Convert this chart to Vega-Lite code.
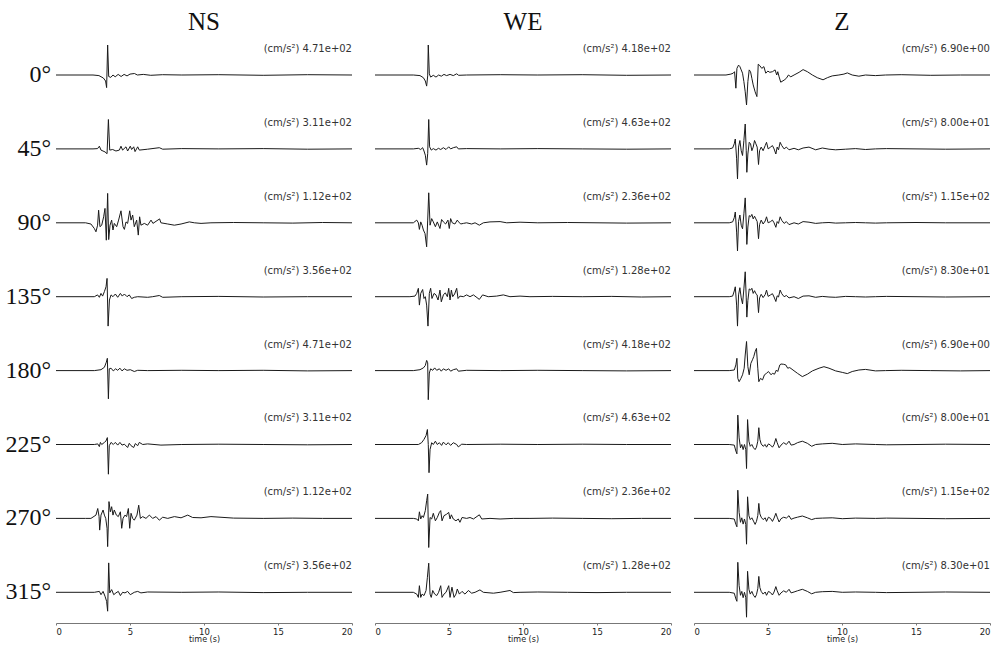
{
"$schema": "https://vega.github.io/schema/vega-lite/v6.json",
"background": "white",
"padding": {"left": 5, "top": 10, "right": 0, "bottom": 0},
"bounds": "flush",
"data": {"values": [
{"c":"NS","a":"0°","lab":"(cm/s²) 4.71e+02"},{"c":"NS","a":"45°","lab":"(cm/s²) 3.11e+02"},{"c":"NS","a":"90°","lab":"(cm/s²) 1.12e+02"},{"c":"NS","a":"135°","lab":"(cm/s²) 3.56e+02"},
{"c":"NS","a":"180°","lab":"(cm/s²) 4.71e+02"},{"c":"NS","a":"225°","lab":"(cm/s²) 3.11e+02"},{"c":"NS","a":"270°","lab":"(cm/s²) 1.12e+02"},{"c":"NS","a":"315°","lab":"(cm/s²) 3.56e+02"},
{"c":"WE","a":"0°","lab":"(cm/s²) 4.18e+02"},{"c":"WE","a":"45°","lab":"(cm/s²) 4.63e+02"},{"c":"WE","a":"90°","lab":"(cm/s²) 2.36e+02"},{"c":"WE","a":"135°","lab":"(cm/s²) 1.28e+02"},
{"c":"WE","a":"180°","lab":"(cm/s²) 4.18e+02"},{"c":"WE","a":"225°","lab":"(cm/s²) 4.63e+02"},{"c":"WE","a":"270°","lab":"(cm/s²) 2.36e+02"},{"c":"WE","a":"315°","lab":"(cm/s²) 1.28e+02"},
{"c":"Z","a":"0°","lab":"(cm/s²) 6.90e+00"},{"c":"Z","a":"45°","lab":"(cm/s²) 8.00e+01"},{"c":"Z","a":"90°","lab":"(cm/s²) 1.15e+02"},{"c":"Z","a":"135°","lab":"(cm/s²) 8.30e+01"},
{"c":"Z","a":"180°","lab":"(cm/s²) 6.90e+00"},{"c":"Z","a":"225°","lab":"(cm/s²) 8.00e+01"},{"c":"Z","a":"270°","lab":"(cm/s²) 1.15e+02"},{"c":"Z","a":"315°","lab":"(cm/s²) 8.30e+01"},

{"c":"NS","a":"0°","t":0,"v":0},{"c":"NS","a":"0°","t":2.5,"v":0},{"c":"NS","a":"0°","t":2.9,"v":-0.02},{"c":"NS","a":"0°","t":3.2,"v":-0.1},{"c":"NS","a":"0°","t":3.35,"v":-0.2},{"c":"NS","a":"0°","t":3.42,"v":-0.42},{"c":"NS","a":"0°","t":3.49,"v":1.0},{"c":"NS","a":"0°","t":3.56,"v":-0.05},{"c":"NS","a":"0°","t":3.7,"v":-0.08},{"c":"NS","a":"0°","t":3.85,"v":0},{"c":"NS","a":"0°","t":4.0,"v":-0.06},{"c":"NS","a":"0°","t":4.2,"v":0.02},{"c":"NS","a":"0°","t":4.4,"v":-0.05},{"c":"NS","a":"0°","t":4.6,"v":0.02},{"c":"NS","a":"0°","t":4.8,"v":-0.03},{"c":"NS","a":"0°","t":5.0,"v":0.03},{"c":"NS","a":"0°","t":5.3,"v":0.05},{"c":"NS","a":"0°","t":5.5,"v":0},{"c":"NS","a":"0°","t":5.9,"v":0.02},{"c":"NS","a":"0°","t":6.4,"v":-0.01},{"c":"NS","a":"0°","t":7.2,"v":0.01},{"c":"NS","a":"0°","t":8.5,"v":0},{"c":"NS","a":"0°","t":11,"v":0.01},{"c":"NS","a":"0°","t":14,"v":-0.01},{"c":"NS","a":"0°","t":17,"v":0.01},{"c":"NS","a":"0°","t":20,"v":0},

{"c":"NS","a":"45°","t":0,"v":0},{"c":"NS","a":"45°","t":2.5,"v":0},{"c":"NS","a":"45°","t":2.81,"v":0.01},{"c":"NS","a":"45°","t":2.93,"v":0.09},{"c":"NS","a":"45°","t":3.04,"v":-0.04},{"c":"NS","a":"45°","t":3.31,"v":-0.1},{"c":"NS","a":"45°","t":3.45,"v":-0.16},{"c":"NS","a":"45°","t":3.54,"v":0.98},{"c":"NS","a":"45°","t":3.63,"v":-0.04},{"c":"NS","a":"45°","t":3.83,"v":-0.02},{"c":"NS","a":"45°","t":4.05,"v":-0.07},{"c":"NS","a":"45°","t":4.28,"v":-0.04},{"c":"NS","a":"45°","t":4.39,"v":0.09},{"c":"NS","a":"45°","t":4.5,"v":-0.04},{"c":"NS","a":"45°","t":4.73,"v":0.07},{"c":"NS","a":"45°","t":4.84,"v":-0.07},{"c":"NS","a":"45°","t":5.02,"v":0.09},{"c":"NS","a":"45°","t":5.11,"v":-0.02},{"c":"NS","a":"45°","t":5.25,"v":0.07},{"c":"NS","a":"45°","t":5.34,"v":-0.09},{"c":"NS","a":"45°","t":5.52,"v":0.07},{"c":"NS","a":"45°","t":5.63,"v":-0.04},{"c":"NS","a":"45°","t":6.19,"v":-0.01},{"c":"NS","a":"45°","t":6.98,"v":0.04},{"c":"NS","a":"45°","t":7.21,"v":-0.01},{"c":"NS","a":"45°","t":8.5,"v":0.01},{"c":"NS","a":"45°","t":11,"v":0},{"c":"NS","a":"45°","t":14,"v":0.01},{"c":"NS","a":"45°","t":17,"v":-0.01},{"c":"NS","a":"45°","t":20,"v":0},

{"c":"NS","a":"90°","t":0,"v":0},{"c":"NS","a":"90°","t":2.0,"v":0},{"c":"NS","a":"90°","t":2.36,"v":-0.04},{"c":"NS","a":"90°","t":2.59,"v":-0.19},{"c":"NS","a":"90°","t":2.7,"v":-0.3},{"c":"NS","a":"90°","t":2.81,"v":-0.08},{"c":"NS","a":"90°","t":2.88,"v":0.42},{"c":"NS","a":"90°","t":2.97,"v":-0.13},{"c":"NS","a":"90°","t":3.09,"v":-0.08},{"c":"NS","a":"90°","t":3.22,"v":0.2},{"c":"NS","a":"90°","t":3.31,"v":0.48},{"c":"NS","a":"90°","t":3.4,"v":-0.58},{"c":"NS","a":"90°","t":3.49,"v":0.98},{"c":"NS","a":"90°","t":3.56,"v":-0.56},{"c":"NS","a":"90°","t":3.65,"v":-0.08},{"c":"NS","a":"90°","t":3.76,"v":0.09},{"c":"NS","a":"90°","t":3.85,"v":-0.24},{"c":"NS","a":"90°","t":3.94,"v":-0.02},{"c":"NS","a":"90°","t":4.1,"v":-0.13},{"c":"NS","a":"90°","t":4.23,"v":0.09},{"c":"NS","a":"90°","t":4.39,"v":0.4},{"c":"NS","a":"90°","t":4.53,"v":-0.13},{"c":"NS","a":"90°","t":4.62,"v":-0.22},{"c":"NS","a":"90°","t":4.73,"v":0.03},{"c":"NS","a":"90°","t":4.84,"v":-0.02},{"c":"NS","a":"90°","t":4.98,"v":0.4},{"c":"NS","a":"90°","t":5.07,"v":0.09},{"c":"NS","a":"90°","t":5.18,"v":0.26},{"c":"NS","a":"90°","t":5.29,"v":-0.13},{"c":"NS","a":"90°","t":5.45,"v":0.09},{"c":"NS","a":"90°","t":5.56,"v":-0.41},{"c":"NS","a":"90°","t":5.65,"v":0.2},{"c":"NS","a":"90°","t":5.74,"v":-0.08},{"c":"NS","a":"90°","t":5.97,"v":-0.02},{"c":"NS","a":"90°","t":6.19,"v":-0.08},{"c":"NS","a":"90°","t":6.42,"v":0.09},{"c":"NS","a":"90°","t":6.55,"v":-0.02},{"c":"NS","a":"90°","t":7.0,"v":0.13},{"c":"NS","a":"90°","t":7.09,"v":0},{"c":"NS","a":"90°","t":7.55,"v":-0.04},{"c":"NS","a":"90°","t":8.0,"v":-0.08},{"c":"NS","a":"90°","t":8.45,"v":-0.04},{"c":"NS","a":"90°","t":9.01,"v":0.03},{"c":"NS","a":"90°","t":9.35,"v":0},{"c":"NS","a":"90°","t":9.8,"v":-0.02},{"c":"NS","a":"90°","t":10.47,"v":0},{"c":"NS","a":"90°","t":12,"v":0.01},{"c":"NS","a":"90°","t":14,"v":0},{"c":"NS","a":"90°","t":16,"v":-0.01},{"c":"NS","a":"90°","t":18,"v":0.01},{"c":"NS","a":"90°","t":20,"v":0},

{"c":"NS","a":"135°","t":0,"v":0},{"c":"NS","a":"135°","t":2.59,"v":0},{"c":"NS","a":"135°","t":2.81,"v":0.06},{"c":"NS","a":"135°","t":2.93,"v":-0.02},{"c":"NS","a":"135°","t":3.04,"v":0.11},{"c":"NS","a":"135°","t":3.15,"v":0.02},{"c":"NS","a":"135°","t":3.27,"v":0.17},{"c":"NS","a":"135°","t":3.38,"v":0.33},{"c":"NS","a":"135°","t":3.45,"v":0.61},{"c":"NS","a":"135°","t":3.52,"v":-0.98},{"c":"NS","a":"135°","t":3.61,"v":-0.11},{"c":"NS","a":"135°","t":3.72,"v":0.06},{"c":"NS","a":"135°","t":3.85,"v":0},{"c":"NS","a":"135°","t":4.01,"v":0.09},{"c":"NS","a":"135°","t":4.17,"v":-0.02},{"c":"NS","a":"135°","t":4.35,"v":0.11},{"c":"NS","a":"135°","t":4.48,"v":0.02},{"c":"NS","a":"135°","t":4.62,"v":0.09},{"c":"NS","a":"135°","t":4.8,"v":0},{"c":"NS","a":"135°","t":4.95,"v":0.06},{"c":"NS","a":"135°","t":5.11,"v":-0.06},{"c":"NS","a":"135°","t":5.29,"v":-0.02},{"c":"NS","a":"135°","t":5.52,"v":0},{"c":"NS","a":"135°","t":6.19,"v":-0.02},{"c":"NS","a":"135°","t":6.53,"v":0},{"c":"NS","a":"135°","t":6.98,"v":0.04},{"c":"NS","a":"135°","t":7.21,"v":-0.02},{"c":"NS","a":"135°","t":8.5,"v":0},{"c":"NS","a":"135°","t":11,"v":0.01},{"c":"NS","a":"135°","t":14,"v":-0.01},{"c":"NS","a":"135°","t":17,"v":0},{"c":"NS","a":"135°","t":20,"v":0},

{"c":"NS","a":"180°","t":0,"v":0},{"c":"NS","a":"180°","t":2.59,"v":0},{"c":"NS","a":"180°","t":3.04,"v":0.03},{"c":"NS","a":"180°","t":3.27,"v":0.11},{"c":"NS","a":"180°","t":3.4,"v":0.28},{"c":"NS","a":"180°","t":3.47,"v":0.41},{"c":"NS","a":"180°","t":3.54,"v":-0.94},{"c":"NS","a":"180°","t":3.6,"v":0.06},{"c":"NS","a":"180°","t":3.72,"v":0.08},{"c":"NS","a":"180°","t":3.87,"v":-0.01},{"c":"NS","a":"180°","t":4.03,"v":0.06},{"c":"NS","a":"180°","t":4.17,"v":0.01},{"c":"NS","a":"180°","t":4.32,"v":0.08},{"c":"NS","a":"180°","t":4.46,"v":-0.01},{"c":"NS","a":"180°","t":4.62,"v":0.06},{"c":"NS","a":"180°","t":4.8,"v":0.01},{"c":"NS","a":"180°","t":5.02,"v":0.03},{"c":"NS","a":"180°","t":5.29,"v":-0.03},{"c":"NS","a":"180°","t":5.52,"v":0.01},{"c":"NS","a":"180°","t":6.19,"v":0},{"c":"NS","a":"180°","t":8.5,"v":0.01},{"c":"NS","a":"180°","t":11,"v":0},{"c":"NS","a":"180°","t":14,"v":0.01},{"c":"NS","a":"180°","t":17,"v":-0.01},{"c":"NS","a":"180°","t":20,"v":0},

{"c":"NS","a":"225°","t":0,"v":0},{"c":"NS","a":"225°","t":2.59,"v":0},{"c":"NS","a":"225°","t":2.82,"v":0.02},{"c":"NS","a":"225°","t":2.93,"v":-0.07},{"c":"NS","a":"225°","t":3.0,"v":0.07},{"c":"NS","a":"225°","t":3.09,"v":0},{"c":"NS","a":"225°","t":3.27,"v":0.07},{"c":"NS","a":"225°","t":3.38,"v":0.12},{"c":"NS","a":"225°","t":3.47,"v":0.23},{"c":"NS","a":"225°","t":3.54,"v":-0.99},{"c":"NS","a":"225°","t":3.6,"v":-0.04},{"c":"NS","a":"225°","t":3.72,"v":0.07},{"c":"NS","a":"225°","t":3.87,"v":0},{"c":"NS","a":"225°","t":4.01,"v":0.07},{"c":"NS","a":"225°","t":4.17,"v":-0.02},{"c":"NS","a":"225°","t":4.32,"v":0.07},{"c":"NS","a":"225°","t":4.46,"v":-0.02},{"c":"NS","a":"225°","t":4.62,"v":0.01},{"c":"NS","a":"225°","t":4.84,"v":-0.1},{"c":"NS","a":"225°","t":4.95,"v":0.04},{"c":"NS","a":"225°","t":5.07,"v":-0.04},{"c":"NS","a":"225°","t":5.25,"v":-0.1},{"c":"NS","a":"225°","t":5.36,"v":0.03},{"c":"NS","a":"225°","t":5.52,"v":-0.04},{"c":"NS","a":"225°","t":5.63,"v":0.07},{"c":"NS","a":"225°","t":5.86,"v":0},{"c":"NS","a":"225°","t":6.19,"v":0.02},{"c":"NS","a":"225°","t":7.09,"v":-0.02},{"c":"NS","a":"225°","t":8.5,"v":0},{"c":"NS","a":"225°","t":11,"v":0.01},{"c":"NS","a":"225°","t":14,"v":0},{"c":"NS","a":"225°","t":17,"v":-0.01},{"c":"NS","a":"225°","t":20,"v":0},

{"c":"NS","a":"270°","t":0,"v":0},{"c":"NS","a":"270°","t":2.0,"v":0},{"c":"NS","a":"270°","t":2.36,"v":0},{"c":"NS","a":"270°","t":2.7,"v":0.11},{"c":"NS","a":"270°","t":2.82,"v":0.33},{"c":"NS","a":"270°","t":2.91,"v":0.06},{"c":"NS","a":"270°","t":2.95,"v":-0.39},{"c":"NS","a":"270°","t":3.04,"v":0.11},{"c":"NS","a":"270°","t":3.18,"v":0.28},{"c":"NS","a":"270°","t":3.27,"v":0.11},{"c":"NS","a":"270°","t":3.36,"v":0},{"c":"NS","a":"270°","t":3.45,"v":-0.33},{"c":"NS","a":"270°","t":3.49,"v":-0.94},{"c":"NS","a":"270°","t":3.58,"v":0.56},{"c":"NS","a":"270°","t":3.67,"v":0.22},{"c":"NS","a":"270°","t":3.76,"v":0.39},{"c":"NS","a":"270°","t":3.85,"v":0.11},{"c":"NS","a":"270°","t":3.94,"v":0.28},{"c":"NS","a":"270°","t":4.08,"v":0.11},{"c":"NS","a":"270°","t":4.21,"v":0.06},{"c":"NS","a":"270°","t":4.35,"v":0.22},{"c":"NS","a":"270°","t":4.44,"v":-0.33},{"c":"NS","a":"270°","t":4.53,"v":0},{"c":"NS","a":"270°","t":4.66,"v":0.11},{"c":"NS","a":"270°","t":4.77,"v":0.06},{"c":"NS","a":"270°","t":4.89,"v":0.33},{"c":"NS","a":"270°","t":4.98,"v":-0.33},{"c":"NS","a":"270°","t":5.07,"v":0.17},{"c":"NS","a":"270°","t":5.18,"v":0},{"c":"NS","a":"270°","t":5.29,"v":-0.06},{"c":"NS","a":"270°","t":5.47,"v":0.11},{"c":"NS","a":"270°","t":5.59,"v":0.44},{"c":"NS","a":"270°","t":5.7,"v":0},{"c":"NS","a":"270°","t":5.86,"v":0.06},{"c":"NS","a":"270°","t":6.08,"v":0},{"c":"NS","a":"270°","t":6.31,"v":0.11},{"c":"NS","a":"270°","t":6.53,"v":0},{"c":"NS","a":"270°","t":6.76,"v":0.06},{"c":"NS","a":"270°","t":6.98,"v":-0.06},{"c":"NS","a":"270°","t":7.21,"v":0.04},{"c":"NS","a":"270°","t":7.55,"v":0},{"c":"NS","a":"270°","t":8.0,"v":0.06},{"c":"NS","a":"270°","t":8.45,"v":0.02},{"c":"NS","a":"270°","t":8.9,"v":0.11},{"c":"NS","a":"270°","t":9.23,"v":0.03},{"c":"NS","a":"270°","t":9.8,"v":0.02},{"c":"NS","a":"270°","t":10.47,"v":0.06},{"c":"NS","a":"270°","t":12,"v":0.01},{"c":"NS","a":"270°","t":14,"v":0},{"c":"NS","a":"270°","t":16,"v":0.01},{"c":"NS","a":"270°","t":18,"v":0},{"c":"NS","a":"270°","t":20,"v":0},

{"c":"NS","a":"315°","t":0,"v":0},{"c":"NS","a":"315°","t":2.59,"v":0},{"c":"NS","a":"315°","t":2.93,"v":0.03},{"c":"NS","a":"315°","t":3.04,"v":-0.08},{"c":"NS","a":"315°","t":3.18,"v":0.03},{"c":"NS","a":"315°","t":3.31,"v":-0.13},{"c":"NS","a":"315°","t":3.42,"v":-0.3},{"c":"NS","a":"315°","t":3.49,"v":-0.63},{"c":"NS","a":"315°","t":3.56,"v":0.98},{"c":"NS","a":"315°","t":3.63,"v":-0.02},{"c":"NS","a":"315°","t":3.76,"v":0.09},{"c":"NS","a":"315°","t":3.9,"v":-0.08},{"c":"NS","a":"315°","t":4.05,"v":-0.02},{"c":"NS","a":"315°","t":4.21,"v":0.03},{"c":"NS","a":"315°","t":4.35,"v":-0.11},{"c":"NS","a":"315°","t":4.5,"v":0},{"c":"NS","a":"315°","t":4.66,"v":-0.02},{"c":"NS","a":"315°","t":4.84,"v":0.03},{"c":"NS","a":"315°","t":5.02,"v":-0.08},{"c":"NS","a":"315°","t":5.29,"v":0},{"c":"NS","a":"315°","t":5.52,"v":0.03},{"c":"NS","a":"315°","t":5.74,"v":-0.02},{"c":"NS","a":"315°","t":6.19,"v":0.01},{"c":"NS","a":"315°","t":8.5,"v":0},{"c":"NS","a":"315°","t":11,"v":0.01},{"c":"NS","a":"315°","t":14,"v":-0.01},{"c":"NS","a":"315°","t":17,"v":0},{"c":"NS","a":"315°","t":20,"v":0},

{"c":"WE","a":"0°","t":0,"v":0},{"c":"WE","a":"0°","t":2.59,"v":0},{"c":"WE","a":"0°","t":3.04,"v":-0.02},{"c":"WE","a":"0°","t":3.27,"v":-0.09},{"c":"WE","a":"0°","t":3.4,"v":-0.2},{"c":"WE","a":"0°","t":3.49,"v":-0.37},{"c":"WE","a":"0°","t":3.56,"v":-0.03},{"c":"WE","a":"0°","t":3.6,"v":1.0},{"c":"WE","a":"0°","t":3.67,"v":0.04},{"c":"WE","a":"0°","t":3.76,"v":-0.07},{"c":"WE","a":"0°","t":3.94,"v":-0.01},{"c":"WE","a":"0°","t":4.12,"v":-0.07},{"c":"WE","a":"0°","t":4.3,"v":0},{"c":"WE","a":"0°","t":4.48,"v":-0.04},{"c":"WE","a":"0°","t":4.66,"v":0.02},{"c":"WE","a":"0°","t":4.84,"v":-0.02},{"c":"WE","a":"0°","t":5.07,"v":0.02},{"c":"WE","a":"0°","t":5.29,"v":-0.02},{"c":"WE","a":"0°","t":5.52,"v":0.04},{"c":"WE","a":"0°","t":5.65,"v":-0.01},{"c":"WE","a":"0°","t":6.19,"v":0},{"c":"WE","a":"0°","t":8.5,"v":0.01},{"c":"WE","a":"0°","t":11,"v":0},{"c":"WE","a":"0°","t":14,"v":0.01},{"c":"WE","a":"0°","t":17,"v":-0.01},{"c":"WE","a":"0°","t":20,"v":0},

{"c":"WE","a":"45°","t":0,"v":0},{"c":"WE","a":"45°","t":2.59,"v":0},{"c":"WE","a":"45°","t":2.93,"v":0.02},{"c":"WE","a":"45°","t":3.09,"v":-0.02},{"c":"WE","a":"45°","t":3.22,"v":0.04},{"c":"WE","a":"45°","t":3.31,"v":-0.07},{"c":"WE","a":"45°","t":3.4,"v":-0.21},{"c":"WE","a":"45°","t":3.49,"v":-0.54},{"c":"WE","a":"45°","t":3.56,"v":-0.16},{"c":"WE","a":"45°","t":3.63,"v":0.98},{"c":"WE","a":"45°","t":3.69,"v":0.07},{"c":"WE","a":"45°","t":3.8,"v":-0.04},{"c":"WE","a":"45°","t":3.94,"v":0.01},{"c":"WE","a":"45°","t":4.12,"v":-0.04},{"c":"WE","a":"45°","t":4.28,"v":0.02},{"c":"WE","a":"45°","t":4.44,"v":-0.02},{"c":"WE","a":"45°","t":4.62,"v":0.04},{"c":"WE","a":"45°","t":4.8,"v":-0.02},{"c":"WE","a":"45°","t":4.98,"v":0.07},{"c":"WE","a":"45°","t":5.11,"v":0},{"c":"WE","a":"45°","t":5.29,"v":0.04},{"c":"WE","a":"45°","t":5.52,"v":0.07},{"c":"WE","a":"45°","t":5.63,"v":0},{"c":"WE","a":"45°","t":6.19,"v":0.01},{"c":"WE","a":"45°","t":8.5,"v":0},{"c":"WE","a":"45°","t":11,"v":0.01},{"c":"WE","a":"45°","t":14,"v":0},{"c":"WE","a":"45°","t":17,"v":-0.01},{"c":"WE","a":"45°","t":20,"v":0},

{"c":"WE","a":"90°","t":0,"v":0},{"c":"WE","a":"90°","t":2.59,"v":0},{"c":"WE","a":"90°","t":2.82,"v":0.09},{"c":"WE","a":"90°","t":2.93,"v":0},{"c":"WE","a":"90°","t":3.0,"v":-0.22},{"c":"WE","a":"90°","t":3.09,"v":0.03},{"c":"WE","a":"90°","t":3.18,"v":-0.08},{"c":"WE","a":"90°","t":3.27,"v":-0.24},{"c":"WE","a":"90°","t":3.38,"v":-0.36},{"c":"WE","a":"90°","t":3.49,"v":-0.8},{"c":"WE","a":"90°","t":3.56,"v":0.09},{"c":"WE","a":"90°","t":3.63,"v":1.0},{"c":"WE","a":"90°","t":3.72,"v":-0.08},{"c":"WE","a":"90°","t":3.83,"v":0.14},{"c":"WE","a":"90°","t":3.94,"v":0.03},{"c":"WE","a":"90°","t":4.08,"v":-0.13},{"c":"WE","a":"90°","t":4.21,"v":0.03},{"c":"WE","a":"90°","t":4.39,"v":-0.19},{"c":"WE","a":"90°","t":4.5,"v":0.11},{"c":"WE","a":"90°","t":4.62,"v":0.03},{"c":"WE","a":"90°","t":4.77,"v":-0.04},{"c":"WE","a":"90°","t":4.93,"v":0.09},{"c":"WE","a":"90°","t":5.02,"v":-0.19},{"c":"WE","a":"90°","t":5.11,"v":0.14},{"c":"WE","a":"90°","t":5.22,"v":0},{"c":"WE","a":"90°","t":5.4,"v":-0.04},{"c":"WE","a":"90°","t":5.56,"v":0.09},{"c":"WE","a":"90°","t":5.65,"v":0.03},{"c":"WE","a":"90°","t":5.79,"v":-0.04},{"c":"WE","a":"90°","t":5.97,"v":-0.02},{"c":"WE","a":"90°","t":6.19,"v":0},{"c":"WE","a":"90°","t":6.53,"v":-0.04},{"c":"WE","a":"90°","t":6.76,"v":0},{"c":"WE","a":"90°","t":7.05,"v":-0.08},{"c":"WE","a":"90°","t":7.32,"v":0},{"c":"WE","a":"90°","t":7.77,"v":0.03},{"c":"WE","a":"90°","t":8.45,"v":0.04},{"c":"WE","a":"90°","t":8.9,"v":0},{"c":"WE","a":"90°","t":9.8,"v":0.02},{"c":"WE","a":"90°","t":11,"v":0},{"c":"WE","a":"90°","t":13,"v":0.01},{"c":"WE","a":"90°","t":15,"v":0},{"c":"WE","a":"90°","t":17,"v":-0.01},{"c":"WE","a":"90°","t":20,"v":0},

{"c":"WE","a":"135°","t":0,"v":0},{"c":"WE","a":"135°","t":2.36,"v":0},{"c":"WE","a":"135°","t":2.7,"v":0.02},{"c":"WE","a":"135°","t":2.82,"v":0.11},{"c":"WE","a":"135°","t":2.93,"v":0.28},{"c":"WE","a":"135°","t":3.0,"v":-0.28},{"c":"WE","a":"135°","t":3.09,"v":0.11},{"c":"WE","a":"135°","t":3.22,"v":0.24},{"c":"WE","a":"135°","t":3.31,"v":-0.06},{"c":"WE","a":"135°","t":3.4,"v":0},{"c":"WE","a":"135°","t":3.49,"v":-0.28},{"c":"WE","a":"135°","t":3.58,"v":-0.98},{"c":"WE","a":"135°","t":3.67,"v":0.11},{"c":"WE","a":"135°","t":3.76,"v":0.28},{"c":"WE","a":"135°","t":3.85,"v":-0.06},{"c":"WE","a":"135°","t":3.99,"v":0.11},{"c":"WE","a":"135°","t":4.12,"v":0.06},{"c":"WE","a":"135°","t":4.26,"v":-0.11},{"c":"WE","a":"135°","t":4.39,"v":0.22},{"c":"WE","a":"135°","t":4.48,"v":-0.17},{"c":"WE","a":"135°","t":4.62,"v":0.06},{"c":"WE","a":"135°","t":4.75,"v":0.13},{"c":"WE","a":"135°","t":4.89,"v":0},{"c":"WE","a":"135°","t":4.98,"v":0.28},{"c":"WE","a":"135°","t":5.07,"v":-0.11},{"c":"WE","a":"135°","t":5.16,"v":0.22},{"c":"WE","a":"135°","t":5.25,"v":0},{"c":"WE","a":"135°","t":5.38,"v":0.09},{"c":"WE","a":"135°","t":5.52,"v":0.28},{"c":"WE","a":"135°","t":5.61,"v":-0.06},{"c":"WE","a":"135°","t":5.74,"v":0.02},{"c":"WE","a":"135°","t":5.97,"v":0},{"c":"WE","a":"135°","t":6.19,"v":0.06},{"c":"WE","a":"135°","t":6.42,"v":0},{"c":"WE","a":"135°","t":6.65,"v":0.06},{"c":"WE","a":"135°","t":7.05,"v":-0.09},{"c":"WE","a":"135°","t":7.27,"v":0.06},{"c":"WE","a":"135°","t":7.65,"v":0},{"c":"WE","a":"135°","t":8.22,"v":0.02},{"c":"WE","a":"135°","t":8.67,"v":0.06},{"c":"WE","a":"135°","t":9.12,"v":0},{"c":"WE","a":"135°","t":9.8,"v":0.02},{"c":"WE","a":"135°","t":10.47,"v":0},{"c":"WE","a":"135°","t":12,"v":0.01},{"c":"WE","a":"135°","t":14,"v":0},{"c":"WE","a":"135°","t":16,"v":0.01},{"c":"WE","a":"135°","t":18,"v":-0.01},{"c":"WE","a":"135°","t":20,"v":0},

{"c":"WE","a":"180°","t":0,"v":0},{"c":"WE","a":"180°","t":2.59,"v":0},{"c":"WE","a":"180°","t":3.04,"v":0.03},{"c":"WE","a":"180°","t":3.27,"v":0.09},{"c":"WE","a":"180°","t":3.4,"v":0.17},{"c":"WE","a":"180°","t":3.49,"v":0.34},{"c":"WE","a":"180°","t":3.56,"v":0.26},{"c":"WE","a":"180°","t":3.6,"v":-0.97},{"c":"WE","a":"180°","t":3.67,"v":-0.08},{"c":"WE","a":"180°","t":3.76,"v":0.06},{"c":"WE","a":"180°","t":3.9,"v":0.01},{"c":"WE","a":"180°","t":4.03,"v":0.09},{"c":"WE","a":"180°","t":4.17,"v":0.01},{"c":"WE","a":"180°","t":4.35,"v":0.06},{"c":"WE","a":"180°","t":4.48,"v":-0.02},{"c":"WE","a":"180°","t":4.62,"v":0.06},{"c":"WE","a":"180°","t":4.8,"v":0.01},{"c":"WE","a":"180°","t":4.98,"v":0.06},{"c":"WE","a":"180°","t":5.11,"v":-0.02},{"c":"WE","a":"180°","t":5.29,"v":0.03},{"c":"WE","a":"180°","t":5.52,"v":0.06},{"c":"WE","a":"180°","t":5.63,"v":-0.02},{"c":"WE","a":"180°","t":6.19,"v":0.01},{"c":"WE","a":"180°","t":8.5,"v":0},{"c":"WE","a":"180°","t":11,"v":0.01},{"c":"WE","a":"180°","t":14,"v":0},{"c":"WE","a":"180°","t":17,"v":-0.01},{"c":"WE","a":"180°","t":20,"v":0},

{"c":"WE","a":"225°","t":0,"v":0},{"c":"WE","a":"225°","t":2.93,"v":0},{"c":"WE","a":"225°","t":3.15,"v":0.06},{"c":"WE","a":"225°","t":3.31,"v":0.17},{"c":"WE","a":"225°","t":3.45,"v":0.3},{"c":"WE","a":"225°","t":3.54,"v":0.5},{"c":"WE","a":"225°","t":3.6,"v":0},{"c":"WE","a":"225°","t":3.65,"v":-0.94},{"c":"WE","a":"225°","t":3.72,"v":-0.17},{"c":"WE","a":"225°","t":3.83,"v":0.06},{"c":"WE","a":"225°","t":3.94,"v":0},{"c":"WE","a":"225°","t":4.08,"v":0.11},{"c":"WE","a":"225°","t":4.21,"v":0},{"c":"WE","a":"225°","t":4.35,"v":0.06},{"c":"WE","a":"225°","t":4.5,"v":-0.03},{"c":"WE","a":"225°","t":4.62,"v":0.08},{"c":"WE","a":"225°","t":4.8,"v":-0.01},{"c":"WE","a":"225°","t":4.95,"v":0.06},{"c":"WE","a":"225°","t":5.11,"v":-0.03},{"c":"WE","a":"225°","t":5.29,"v":0.06},{"c":"WE","a":"225°","t":5.52,"v":0},{"c":"WE","a":"225°","t":5.63,"v":-0.08},{"c":"WE","a":"225°","t":5.86,"v":0.01},{"c":"WE","a":"225°","t":6.19,"v":0},{"c":"WE","a":"225°","t":8.5,"v":0.01},{"c":"WE","a":"225°","t":11,"v":0},{"c":"WE","a":"225°","t":14,"v":0.01},{"c":"WE","a":"225°","t":17,"v":0},{"c":"WE","a":"225°","t":20,"v":0},

{"c":"WE","a":"270°","t":0,"v":0},{"c":"WE","a":"270°","t":2.59,"v":0},{"c":"WE","a":"270°","t":2.82,"v":-0.02},{"c":"WE","a":"270°","t":2.93,"v":-0.08},{"c":"WE","a":"270°","t":3.0,"v":0.22},{"c":"WE","a":"270°","t":3.09,"v":-0.02},{"c":"WE","a":"270°","t":3.18,"v":0.09},{"c":"WE","a":"270°","t":3.27,"v":0.03},{"c":"WE","a":"270°","t":3.4,"v":0.26},{"c":"WE","a":"270°","t":3.49,"v":0.59},{"c":"WE","a":"270°","t":3.56,"v":0.81},{"c":"WE","a":"270°","t":3.63,"v":-0.97},{"c":"WE","a":"270°","t":3.72,"v":0.03},{"c":"WE","a":"270°","t":3.83,"v":-0.02},{"c":"WE","a":"270°","t":3.94,"v":0.17},{"c":"WE","a":"270°","t":4.08,"v":-0.08},{"c":"WE","a":"270°","t":4.21,"v":0.03},{"c":"WE","a":"270°","t":4.35,"v":0.2},{"c":"WE","a":"270°","t":4.44,"v":0.26},{"c":"WE","a":"270°","t":4.53,"v":-0.08},{"c":"WE","a":"270°","t":4.66,"v":0.09},{"c":"WE","a":"270°","t":4.84,"v":0.14},{"c":"WE","a":"270°","t":4.98,"v":0.2},{"c":"WE","a":"270°","t":5.07,"v":-0.02},{"c":"WE","a":"270°","t":5.16,"v":0.12},{"c":"WE","a":"270°","t":5.29,"v":-0.02},{"c":"WE","a":"270°","t":5.47,"v":-0.08},{"c":"WE","a":"270°","t":5.63,"v":-0.02},{"c":"WE","a":"270°","t":5.74,"v":-0.13},{"c":"WE","a":"270°","t":5.88,"v":0.03},{"c":"WE","a":"270°","t":6.19,"v":0},{"c":"WE","a":"270°","t":6.42,"v":0.03},{"c":"WE","a":"270°","t":6.65,"v":-0.02},{"c":"WE","a":"270°","t":7.05,"v":0.12},{"c":"WE","a":"270°","t":7.21,"v":-0.02},{"c":"WE","a":"270°","t":7.77,"v":0},{"c":"WE","a":"270°","t":8.45,"v":-0.02},{"c":"WE","a":"270°","t":9.35,"v":0},{"c":"WE","a":"270°","t":10.47,"v":0},{"c":"WE","a":"270°","t":12,"v":0.01},{"c":"WE","a":"270°","t":14,"v":0},{"c":"WE","a":"270°","t":16,"v":-0.01},{"c":"WE","a":"270°","t":18,"v":0},{"c":"WE","a":"270°","t":20,"v":0},

{"c":"WE","a":"315°","t":0,"v":0},{"c":"WE","a":"315°","t":2.59,"v":0},{"c":"WE","a":"315°","t":2.82,"v":-0.06},{"c":"WE","a":"315°","t":2.93,"v":-0.17},{"c":"WE","a":"315°","t":3.0,"v":0.22},{"c":"WE","a":"315°","t":3.09,"v":-0.17},{"c":"WE","a":"315°","t":3.18,"v":-0.06},{"c":"WE","a":"315°","t":3.31,"v":-0.11},{"c":"WE","a":"315°","t":3.45,"v":0.06},{"c":"WE","a":"315°","t":3.54,"v":0.5},{"c":"WE","a":"315°","t":3.63,"v":0.97},{"c":"WE","a":"315°","t":3.72,"v":-0.06},{"c":"WE","a":"315°","t":3.8,"v":-0.17},{"c":"WE","a":"315°","t":3.9,"v":0.06},{"c":"WE","a":"315°","t":4.03,"v":-0.06},{"c":"WE","a":"315°","t":4.17,"v":-0.11},{"c":"WE","a":"315°","t":4.3,"v":0},{"c":"WE","a":"315°","t":4.44,"v":0.22},{"c":"WE","a":"315°","t":4.53,"v":-0.17},{"c":"WE","a":"315°","t":4.66,"v":-0.06},{"c":"WE","a":"315°","t":4.8,"v":0},{"c":"WE","a":"315°","t":4.98,"v":0.22},{"c":"WE","a":"315°","t":5.07,"v":-0.17},{"c":"WE","a":"315°","t":5.2,"v":0.17},{"c":"WE","a":"315°","t":5.34,"v":-0.17},{"c":"WE","a":"315°","t":5.47,"v":-0.06},{"c":"WE","a":"315°","t":5.56,"v":0.11},{"c":"WE","a":"315°","t":5.7,"v":-0.06},{"c":"WE","a":"315°","t":5.88,"v":0.03},{"c":"WE","a":"315°","t":6.08,"v":-0.06},{"c":"WE","a":"315°","t":6.31,"v":0.06},{"c":"WE","a":"315°","t":6.53,"v":-0.03},{"c":"WE","a":"315°","t":6.76,"v":0},{"c":"WE","a":"315°","t":7.09,"v":0.08},{"c":"WE","a":"315°","t":7.32,"v":0},{"c":"WE","a":"315°","t":8.0,"v":-0.03},{"c":"WE","a":"315°","t":8.45,"v":0},{"c":"WE","a":"315°","t":9.12,"v":0.06},{"c":"WE","a":"315°","t":9.35,"v":-0.01},{"c":"WE","a":"315°","t":9.8,"v":0},{"c":"WE","a":"315°","t":11,"v":0.01},{"c":"WE","a":"315°","t":13,"v":0},{"c":"WE","a":"315°","t":15,"v":-0.01},{"c":"WE","a":"315°","t":17,"v":0},{"c":"WE","a":"315°","t":20,"v":0},

{"c":"Z","a":"0°","t":0,"v":0},{"c":"Z","a":"0°","t":2.16,"v":0},{"c":"Z","a":"0°","t":2.49,"v":0.03},{"c":"Z","a":"0°","t":2.65,"v":0.06},{"c":"Z","a":"0°","t":2.74,"v":0.11},{"c":"Z","a":"0°","t":2.83,"v":-0.44},{"c":"Z","a":"0°","t":2.9,"v":0.22},{"c":"Z","a":"0°","t":3.01,"v":0.33},{"c":"Z","a":"0°","t":3.1,"v":0.28},{"c":"Z","a":"0°","t":3.19,"v":0.17},{"c":"Z","a":"0°","t":3.28,"v":0.06},{"c":"Z","a":"0°","t":3.37,"v":-0.22},{"c":"Z","a":"0°","t":3.46,"v":-0.56},{"c":"Z","a":"0°","t":3.55,"v":-1.0},{"c":"Z","a":"0°","t":3.64,"v":-0.22},{"c":"Z","a":"0°","t":3.73,"v":0.17},{"c":"Z","a":"0°","t":3.82,"v":0.11},{"c":"Z","a":"0°","t":3.91,"v":-0.11},{"c":"Z","a":"0°","t":4.0,"v":-0.33},{"c":"Z","a":"0°","t":4.13,"v":-0.56},{"c":"Z","a":"0°","t":4.25,"v":-0.72},{"c":"Z","a":"0°","t":4.34,"v":0.36},{"c":"Z","a":"0°","t":4.45,"v":0.31},{"c":"Z","a":"0°","t":4.58,"v":0.22},{"c":"Z","a":"0°","t":4.72,"v":0.28},{"c":"Z","a":"0°","t":4.85,"v":0.06},{"c":"Z","a":"0°","t":4.99,"v":0.13},{"c":"Z","a":"0°","t":5.12,"v":0.09},{"c":"Z","a":"0°","t":5.3,"v":0.11},{"c":"Z","a":"0°","t":5.48,"v":0.17},{"c":"Z","a":"0°","t":5.59,"v":0},{"c":"Z","a":"0°","t":5.66,"v":0.11},{"c":"Z","a":"0°","t":5.75,"v":-0.06},{"c":"Z","a":"0°","t":5.86,"v":-0.24},{"c":"Z","a":"0°","t":6.09,"v":-0.17},{"c":"Z","a":"0°","t":6.24,"v":-0.11},{"c":"Z","a":"0°","t":6.38,"v":0},{"c":"Z","a":"0°","t":6.54,"v":-0.06},{"c":"Z","a":"0°","t":6.76,"v":0},{"c":"Z","a":"0°","t":7.1,"v":0.09},{"c":"Z","a":"0°","t":7.37,"v":0.18},{"c":"Z","a":"0°","t":7.66,"v":0.11},{"c":"Z","a":"0°","t":8.0,"v":0},{"c":"Z","a":"0°","t":8.33,"v":-0.09},{"c":"Z","a":"0°","t":8.72,"v":-0.16},{"c":"Z","a":"0°","t":9.01,"v":-0.09},{"c":"Z","a":"0°","t":9.34,"v":-0.03},{"c":"Z","a":"0°","t":9.79,"v":0},{"c":"Z","a":"0°","t":10.13,"v":0.03},{"c":"Z","a":"0°","t":10.36,"v":0.07},{"c":"Z","a":"0°","t":10.69,"v":0},{"c":"Z","a":"0°","t":11.14,"v":-0.04},{"c":"Z","a":"0°","t":11.59,"v":0},{"c":"Z","a":"0°","t":12.26,"v":-0.02},{"c":"Z","a":"0°","t":12.94,"v":0},{"c":"Z","a":"0°","t":14,"v":0.01},{"c":"Z","a":"0°","t":16,"v":-0.01},{"c":"Z","a":"0°","t":18,"v":0},{"c":"Z","a":"0°","t":20,"v":0},

{"c":"Z","a":"45°","t":0,"v":0},{"c":"Z","a":"45°","t":2.38,"v":0},{"c":"Z","a":"45°","t":2.61,"v":0.03},{"c":"Z","a":"45°","t":2.72,"v":0.17},{"c":"Z","a":"45°","t":2.79,"v":0.33},{"c":"Z","a":"45°","t":2.88,"v":-0.33},{"c":"Z","a":"45°","t":2.94,"v":-1.0},{"c":"Z","a":"45°","t":3.01,"v":0.06},{"c":"Z","a":"45°","t":3.1,"v":0.28},{"c":"Z","a":"45°","t":3.19,"v":-0.06},{"c":"Z","a":"45°","t":3.28,"v":-0.22},{"c":"Z","a":"45°","t":3.37,"v":0.28},{"c":"Z","a":"45°","t":3.46,"v":0.83},{"c":"Z","a":"45°","t":3.53,"v":-0.06},{"c":"Z","a":"45°","t":3.57,"v":-0.78},{"c":"Z","a":"45°","t":3.64,"v":-0.17},{"c":"Z","a":"45°","t":3.73,"v":0.22},{"c":"Z","a":"45°","t":3.82,"v":0.17},{"c":"Z","a":"45°","t":3.91,"v":-0.06},{"c":"Z","a":"45°","t":4.0,"v":0.06},{"c":"Z","a":"45°","t":4.09,"v":0.28},{"c":"Z","a":"45°","t":4.18,"v":0.17},{"c":"Z","a":"45°","t":4.27,"v":0.06},{"c":"Z","a":"45°","t":4.36,"v":-0.52},{"c":"Z","a":"45°","t":4.43,"v":-0.06},{"c":"Z","a":"45°","t":4.54,"v":0.06},{"c":"Z","a":"45°","t":4.67,"v":-0.06},{"c":"Z","a":"45°","t":4.81,"v":0.11},{"c":"Z","a":"45°","t":4.9,"v":0.22},{"c":"Z","a":"45°","t":5.01,"v":0},{"c":"Z","a":"45°","t":5.17,"v":0.06},{"c":"Z","a":"45°","t":5.3,"v":0.11},{"c":"Z","a":"45°","t":5.41,"v":0},{"c":"Z","a":"45°","t":5.53,"v":-0.17},{"c":"Z","a":"45°","t":5.62,"v":0.06},{"c":"Z","a":"45°","t":5.71,"v":-0.03},{"c":"Z","a":"45°","t":5.82,"v":0.22},{"c":"Z","a":"45°","t":5.93,"v":0.11},{"c":"Z","a":"45°","t":6.09,"v":0},{"c":"Z","a":"45°","t":6.24,"v":0.06},{"c":"Z","a":"45°","t":6.42,"v":-0.03},{"c":"Z","a":"45°","t":6.76,"v":0.02},{"c":"Z","a":"45°","t":7.05,"v":-0.03},{"c":"Z","a":"45°","t":7.37,"v":0.03},{"c":"Z","a":"45°","t":7.77,"v":0.06},{"c":"Z","a":"45°","t":8.22,"v":-0.03},{"c":"Z","a":"45°","t":8.67,"v":0.03},{"c":"Z","a":"45°","t":9.12,"v":-0.01},{"c":"Z","a":"45°","t":9.57,"v":-0.03},{"c":"Z","a":"45°","t":10.24,"v":-0.01},{"c":"Z","a":"45°","t":10.92,"v":0.01},{"c":"Z","a":"45°","t":11.59,"v":-0.02},{"c":"Z","a":"45°","t":12.26,"v":0},{"c":"Z","a":"45°","t":13,"v":0.01},{"c":"Z","a":"45°","t":15,"v":0},{"c":"Z","a":"45°","t":17,"v":-0.01},{"c":"Z","a":"45°","t":20,"v":0},

{"c":"Z","a":"90°","t":0,"v":0},{"c":"Z","a":"90°","t":2.38,"v":0},{"c":"Z","a":"90°","t":2.61,"v":0.03},{"c":"Z","a":"90°","t":2.72,"v":0.17},{"c":"Z","a":"90°","t":2.79,"v":0.36},{"c":"Z","a":"90°","t":2.88,"v":-0.31},{"c":"Z","a":"90°","t":2.94,"v":-0.94},{"c":"Z","a":"90°","t":3.01,"v":0.04},{"c":"Z","a":"90°","t":3.1,"v":0.26},{"c":"Z","a":"90°","t":3.19,"v":-0.08},{"c":"Z","a":"90°","t":3.28,"v":-0.2},{"c":"Z","a":"90°","t":3.37,"v":0.3},{"c":"Z","a":"90°","t":3.46,"v":0.83},{"c":"Z","a":"90°","t":3.53,"v":-0.04},{"c":"Z","a":"90°","t":3.57,"v":-0.72},{"c":"Z","a":"90°","t":3.64,"v":-0.14},{"c":"Z","a":"90°","t":3.73,"v":0.24},{"c":"Z","a":"90°","t":3.82,"v":0.2},{"c":"Z","a":"90°","t":3.91,"v":0.28},{"c":"Z","a":"90°","t":4.0,"v":0.13},{"c":"Z","a":"90°","t":4.09,"v":0.22},{"c":"Z","a":"90°","t":4.18,"v":0.13},{"c":"Z","a":"90°","t":4.27,"v":0.04},{"c":"Z","a":"90°","t":4.36,"v":-0.53},{"c":"Z","a":"90°","t":4.43,"v":-0.06},{"c":"Z","a":"90°","t":4.54,"v":0.09},{"c":"Z","a":"90°","t":4.67,"v":-0.04},{"c":"Z","a":"90°","t":4.81,"v":0.06},{"c":"Z","a":"90°","t":4.9,"v":0.2},{"c":"Z","a":"90°","t":5.01,"v":0},{"c":"Z","a":"90°","t":5.17,"v":0.04},{"c":"Z","a":"90°","t":5.3,"v":0.09},{"c":"Z","a":"90°","t":5.41,"v":0},{"c":"Z","a":"90°","t":5.53,"v":-0.15},{"c":"Z","a":"90°","t":5.62,"v":0.04},{"c":"Z","a":"90°","t":5.71,"v":-0.02},{"c":"Z","a":"90°","t":5.82,"v":0.2},{"c":"Z","a":"90°","t":5.93,"v":0.08},{"c":"Z","a":"90°","t":6.09,"v":-0.02},{"c":"Z","a":"90°","t":6.24,"v":0.04},{"c":"Z","a":"90°","t":6.42,"v":-0.06},{"c":"Z","a":"90°","t":6.76,"v":0},{"c":"Z","a":"90°","t":7.05,"v":-0.04},{"c":"Z","a":"90°","t":7.37,"v":0.04},{"c":"Z","a":"90°","t":7.77,"v":0.02},{"c":"Z","a":"90°","t":8.22,"v":-0.02},{"c":"Z","a":"90°","t":8.67,"v":0},{"c":"Z","a":"90°","t":9.12,"v":0.01},{"c":"Z","a":"90°","t":9.57,"v":-0.01},{"c":"Z","a":"90°","t":10.24,"v":0},{"c":"Z","a":"90°","t":10.92,"v":0.01},{"c":"Z","a":"90°","t":11.59,"v":0},{"c":"Z","a":"90°","t":12.26,"v":-0.01},{"c":"Z","a":"90°","t":13,"v":0},{"c":"Z","a":"90°","t":15,"v":0.01},{"c":"Z","a":"90°","t":17,"v":0},{"c":"Z","a":"90°","t":20,"v":0},

{"c":"Z","a":"135°","t":0,"v":0},{"c":"Z","a":"135°","t":2.38,"v":0},{"c":"Z","a":"135°","t":2.61,"v":0.02},{"c":"Z","a":"135°","t":2.72,"v":0.19},{"c":"Z","a":"135°","t":2.79,"v":0.33},{"c":"Z","a":"135°","t":2.88,"v":-0.28},{"c":"Z","a":"135°","t":2.94,"v":-0.98},{"c":"Z","a":"135°","t":3.01,"v":0.06},{"c":"Z","a":"135°","t":3.1,"v":0.3},{"c":"Z","a":"135°","t":3.19,"v":-0.04},{"c":"Z","a":"135°","t":3.28,"v":-0.24},{"c":"Z","a":"135°","t":3.37,"v":0.26},{"c":"Z","a":"135°","t":3.46,"v":0.83},{"c":"Z","a":"135°","t":3.53,"v":-0.04},{"c":"Z","a":"135°","t":3.57,"v":-0.68},{"c":"Z","a":"135°","t":3.64,"v":-0.13},{"c":"Z","a":"135°","t":3.73,"v":0.26},{"c":"Z","a":"135°","t":3.82,"v":0.22},{"c":"Z","a":"135°","t":3.91,"v":0.28},{"c":"Z","a":"135°","t":4.0,"v":0.11},{"c":"Z","a":"135°","t":4.09,"v":0.2},{"c":"Z","a":"135°","t":4.18,"v":0.1},{"c":"Z","a":"135°","t":4.27,"v":0.06},{"c":"Z","a":"135°","t":4.36,"v":-0.53},{"c":"Z","a":"135°","t":4.43,"v":-0.04},{"c":"Z","a":"135°","t":4.54,"v":0.08},{"c":"Z","a":"135°","t":4.67,"v":-0.03},{"c":"Z","a":"135°","t":4.81,"v":0.07},{"c":"Z","a":"135°","t":4.9,"v":0.22},{"c":"Z","a":"135°","t":5.01,"v":0.01},{"c":"Z","a":"135°","t":5.17,"v":0.06},{"c":"Z","a":"135°","t":5.3,"v":0.1},{"c":"Z","a":"135°","t":5.41,"v":-0.01},{"c":"Z","a":"135°","t":5.53,"v":-0.16},{"c":"Z","a":"135°","t":5.62,"v":0.03},{"c":"Z","a":"135°","t":5.71,"v":-0.01},{"c":"Z","a":"135°","t":5.82,"v":0.22},{"c":"Z","a":"135°","t":5.93,"v":0.1},{"c":"Z","a":"135°","t":6.09,"v":0},{"c":"Z","a":"135°","t":6.24,"v":0.04},{"c":"Z","a":"135°","t":6.42,"v":-0.04},{"c":"Z","a":"135°","t":6.76,"v":0},{"c":"Z","a":"135°","t":7.05,"v":-0.06},{"c":"Z","a":"135°","t":7.37,"v":0.02},{"c":"Z","a":"135°","t":7.77,"v":0.03},{"c":"Z","a":"135°","t":8.22,"v":-0.02},{"c":"Z","a":"135°","t":8.67,"v":0.01},{"c":"Z","a":"135°","t":9.12,"v":-0.01},{"c":"Z","a":"135°","t":9.57,"v":-0.02},{"c":"Z","a":"135°","t":10.24,"v":0.01},{"c":"Z","a":"135°","t":10.92,"v":0},{"c":"Z","a":"135°","t":11.59,"v":-0.01},{"c":"Z","a":"135°","t":12.26,"v":0},{"c":"Z","a":"135°","t":13,"v":0.01},{"c":"Z","a":"135°","t":15,"v":0},{"c":"Z","a":"135°","t":17,"v":-0.01},{"c":"Z","a":"135°","t":20,"v":0},

{"c":"Z","a":"180°","t":0,"v":0},{"c":"Z","a":"180°","t":2.38,"v":0},{"c":"Z","a":"180°","t":2.72,"v":0.02},{"c":"Z","a":"180°","t":2.83,"v":0.19},{"c":"Z","a":"180°","t":2.9,"v":0.41},{"c":"Z","a":"180°","t":2.96,"v":-0.26},{"c":"Z","a":"180°","t":3.05,"v":-0.37},{"c":"Z","a":"180°","t":3.17,"v":-0.26},{"c":"Z","a":"180°","t":3.28,"v":-0.14},{"c":"Z","a":"180°","t":3.39,"v":0.08},{"c":"Z","a":"180°","t":3.46,"v":0.52},{"c":"Z","a":"180°","t":3.55,"v":0.97},{"c":"Z","a":"180°","t":3.64,"v":0.13},{"c":"Z","a":"180°","t":3.73,"v":-0.14},{"c":"Z","a":"180°","t":3.84,"v":0.24},{"c":"Z","a":"180°","t":3.95,"v":0.36},{"c":"Z","a":"180°","t":4.04,"v":0.47},{"c":"Z","a":"180°","t":4.13,"v":0.63},{"c":"Z","a":"180°","t":4.22,"v":0.74},{"c":"Z","a":"180°","t":4.31,"v":0.08},{"c":"Z","a":"180°","t":4.38,"v":-0.37},{"c":"Z","a":"180°","t":4.49,"v":-0.26},{"c":"Z","a":"180°","t":4.63,"v":-0.31},{"c":"Z","a":"180°","t":4.76,"v":-0.14},{"c":"Z","a":"180°","t":4.9,"v":-0.09},{"c":"Z","a":"180°","t":5.03,"v":-0.03},{"c":"Z","a":"180°","t":5.21,"v":-0.14},{"c":"Z","a":"180°","t":5.3,"v":-0.09},{"c":"Z","a":"180°","t":5.44,"v":-0.12},{"c":"Z","a":"180°","t":5.57,"v":0.02},{"c":"Z","a":"180°","t":5.66,"v":-0.03},{"c":"Z","a":"180°","t":5.8,"v":0.19},{"c":"Z","a":"180°","t":5.88,"v":0.22},{"c":"Z","a":"180°","t":6.06,"v":0.21},{"c":"Z","a":"180°","t":6.2,"v":0.19},{"c":"Z","a":"180°","t":6.33,"v":0.08},{"c":"Z","a":"180°","t":6.47,"v":0.1},{"c":"Z","a":"180°","t":6.69,"v":0.02},{"c":"Z","a":"180°","t":6.99,"v":-0.09},{"c":"Z","a":"180°","t":7.32,"v":-0.2},{"c":"Z","a":"180°","t":7.66,"v":-0.12},{"c":"Z","a":"180°","t":8.0,"v":-0.01},{"c":"Z","a":"180°","t":8.45,"v":0.08},{"c":"Z","a":"180°","t":8.78,"v":0.13},{"c":"Z","a":"180°","t":9.12,"v":0.08},{"c":"Z","a":"180°","t":9.57,"v":-0.01},{"c":"Z","a":"180°","t":10.02,"v":-0.06},{"c":"Z","a":"180°","t":10.36,"v":-0.1},{"c":"Z","a":"180°","t":10.69,"v":-0.03},{"c":"Z","a":"180°","t":11.14,"v":0.02},{"c":"Z","a":"180°","t":11.59,"v":0.04},{"c":"Z","a":"180°","t":12.26,"v":-0.01},{"c":"Z","a":"180°","t":12.94,"v":0},{"c":"Z","a":"180°","t":14,"v":0.01},{"c":"Z","a":"180°","t":16,"v":0},{"c":"Z","a":"180°","t":18,"v":-0.01},{"c":"Z","a":"180°","t":20,"v":0},

{"c":"Z","a":"225°","t":0,"v":0},{"c":"Z","a":"225°","t":2.38,"v":0},{"c":"Z","a":"225°","t":2.72,"v":-0.02},{"c":"Z","a":"225°","t":2.83,"v":-0.22},{"c":"Z","a":"225°","t":2.9,"v":-0.31},{"c":"Z","a":"225°","t":2.96,"v":0.98},{"c":"Z","a":"225°","t":3.05,"v":0.22},{"c":"Z","a":"225°","t":3.14,"v":-0.11},{"c":"Z","a":"225°","t":3.23,"v":0},{"c":"Z","a":"225°","t":3.32,"v":-0.17},{"c":"Z","a":"225°","t":3.41,"v":0},{"c":"Z","a":"225°","t":3.5,"v":-0.17},{"c":"Z","a":"225°","t":3.55,"v":-0.8},{"c":"Z","a":"225°","t":3.62,"v":0.83},{"c":"Z","a":"225°","t":3.71,"v":0.11},{"c":"Z","a":"225°","t":3.8,"v":-0.06},{"c":"Z","a":"225°","t":3.91,"v":0},{"c":"Z","a":"225°","t":4.02,"v":-0.11},{"c":"Z","a":"225°","t":4.13,"v":-0.17},{"c":"Z","a":"225°","t":4.22,"v":-0.09},{"c":"Z","a":"225°","t":4.31,"v":0.11},{"c":"Z","a":"225°","t":4.38,"v":0.56},{"c":"Z","a":"225°","t":4.45,"v":0.17},{"c":"Z","a":"225°","t":4.54,"v":0.02},{"c":"Z","a":"225°","t":4.67,"v":-0.06},{"c":"Z","a":"225°","t":4.81,"v":0},{"c":"Z","a":"225°","t":4.9,"v":-0.09},{"c":"Z","a":"225°","t":5.03,"v":0.02},{"c":"Z","a":"225°","t":5.17,"v":-0.02},{"c":"Z","a":"225°","t":5.3,"v":-0.09},{"c":"Z","a":"225°","t":5.41,"v":0},{"c":"Z","a":"225°","t":5.53,"v":0.2},{"c":"Z","a":"225°","t":5.62,"v":0.06},{"c":"Z","a":"225°","t":5.75,"v":-0.11},{"c":"Z","a":"225°","t":5.88,"v":-0.02},{"c":"Z","a":"225°","t":6.06,"v":0.06},{"c":"Z","a":"225°","t":6.24,"v":0},{"c":"Z","a":"225°","t":6.42,"v":0.11},{"c":"Z","a":"225°","t":6.56,"v":-0.02},{"c":"Z","a":"225°","t":6.76,"v":0},{"c":"Z","a":"225°","t":6.99,"v":0.06},{"c":"Z","a":"225°","t":7.32,"v":0.11},{"c":"Z","a":"225°","t":7.66,"v":0.04},{"c":"Z","a":"225°","t":7.95,"v":-0.06},{"c":"Z","a":"225°","t":8.22,"v":0},{"c":"Z","a":"225°","t":8.67,"v":0.02},{"c":"Z","a":"225°","t":9.34,"v":0.04},{"c":"Z","a":"225°","t":10.02,"v":0},{"c":"Z","a":"225°","t":10.92,"v":0.02},{"c":"Z","a":"225°","t":12.26,"v":0},{"c":"Z","a":"225°","t":13,"v":-0.01},{"c":"Z","a":"225°","t":15,"v":0},{"c":"Z","a":"225°","t":17,"v":0.01},{"c":"Z","a":"225°","t":20,"v":0},

{"c":"Z","a":"270°","t":0,"v":0},{"c":"Z","a":"270°","t":2.38,"v":0},{"c":"Z","a":"270°","t":2.72,"v":-0.02},{"c":"Z","a":"270°","t":2.83,"v":-0.2},{"c":"Z","a":"270°","t":2.9,"v":-0.28},{"c":"Z","a":"270°","t":2.96,"v":0.94},{"c":"Z","a":"270°","t":3.05,"v":0.2},{"c":"Z","a":"270°","t":3.14,"v":-0.13},{"c":"Z","a":"270°","t":3.23,"v":0.02},{"c":"Z","a":"270°","t":3.32,"v":-0.19},{"c":"Z","a":"270°","t":3.41,"v":-0.02},{"c":"Z","a":"270°","t":3.5,"v":-0.2},{"c":"Z","a":"270°","t":3.55,"v":-0.86},{"c":"Z","a":"270°","t":3.62,"v":0.72},{"c":"Z","a":"270°","t":3.71,"v":0.09},{"c":"Z","a":"270°","t":3.8,"v":-0.04},{"c":"Z","a":"270°","t":3.91,"v":0.02},{"c":"Z","a":"270°","t":4.02,"v":-0.09},{"c":"Z","a":"270°","t":4.13,"v":-0.2},{"c":"Z","a":"270°","t":4.22,"v":-0.1},{"c":"Z","a":"270°","t":4.31,"v":0.09},{"c":"Z","a":"270°","t":4.38,"v":0.5},{"c":"Z","a":"270°","t":4.45,"v":0.15},{"c":"Z","a":"270°","t":4.54,"v":0.04},{"c":"Z","a":"270°","t":4.67,"v":-0.04},{"c":"Z","a":"270°","t":4.81,"v":0.02},{"c":"Z","a":"270°","t":4.9,"v":-0.1},{"c":"Z","a":"270°","t":5.03,"v":0.04},{"c":"Z","a":"270°","t":5.17,"v":0},{"c":"Z","a":"270°","t":5.3,"v":-0.1},{"c":"Z","a":"270°","t":5.41,"v":0.01},{"c":"Z","a":"270°","t":5.53,"v":0.17},{"c":"Z","a":"270°","t":5.62,"v":0.04},{"c":"Z","a":"270°","t":5.75,"v":-0.12},{"c":"Z","a":"270°","t":5.88,"v":-0.01},{"c":"Z","a":"270°","t":6.06,"v":0.04},{"c":"Z","a":"270°","t":6.24,"v":0.01},{"c":"Z","a":"270°","t":6.42,"v":0.09},{"c":"Z","a":"270°","t":6.56,"v":-0.03},{"c":"Z","a":"270°","t":6.76,"v":0.01},{"c":"Z","a":"270°","t":6.99,"v":0.04},{"c":"Z","a":"270°","t":7.32,"v":0.08},{"c":"Z","a":"270°","t":7.66,"v":0.02},{"c":"Z","a":"270°","t":7.95,"v":-0.04},{"c":"Z","a":"270°","t":8.22,"v":0},{"c":"Z","a":"270°","t":8.67,"v":0.01},{"c":"Z","a":"270°","t":9.34,"v":0.02},{"c":"Z","a":"270°","t":10.02,"v":-0.01},{"c":"Z","a":"270°","t":10.92,"v":0.01},{"c":"Z","a":"270°","t":12.26,"v":0},{"c":"Z","a":"270°","t":13,"v":0.01},{"c":"Z","a":"270°","t":15,"v":0},{"c":"Z","a":"270°","t":17,"v":-0.01},{"c":"Z","a":"270°","t":20,"v":0},

{"c":"Z","a":"315°","t":0,"v":0},{"c":"Z","a":"315°","t":2.38,"v":0},{"c":"Z","a":"315°","t":2.72,"v":-0.03},{"c":"Z","a":"315°","t":2.83,"v":-0.22},{"c":"Z","a":"315°","t":2.9,"v":-0.3},{"c":"Z","a":"315°","t":2.96,"v":1.0},{"c":"Z","a":"315°","t":3.05,"v":0.22},{"c":"Z","a":"315°","t":3.14,"v":-0.1},{"c":"Z","a":"315°","t":3.23,"v":0.03},{"c":"Z","a":"315°","t":3.32,"v":-0.18},{"c":"Z","a":"315°","t":3.41,"v":0},{"c":"Z","a":"315°","t":3.5,"v":-0.18},{"c":"Z","a":"315°","t":3.55,"v":-0.83},{"c":"Z","a":"315°","t":3.62,"v":0.7},{"c":"Z","a":"315°","t":3.71,"v":0.1},{"c":"Z","a":"315°","t":3.8,"v":-0.06},{"c":"Z","a":"315°","t":3.91,"v":0.03},{"c":"Z","a":"315°","t":4.02,"v":-0.1},{"c":"Z","a":"315°","t":4.13,"v":-0.17},{"c":"Z","a":"315°","t":4.22,"v":-0.08},{"c":"Z","a":"315°","t":4.31,"v":0.12},{"c":"Z","a":"315°","t":4.38,"v":0.53},{"c":"Z","a":"315°","t":4.45,"v":0.16},{"c":"Z","a":"315°","t":4.54,"v":0.03},{"c":"Z","a":"315°","t":4.67,"v":-0.06},{"c":"Z","a":"315°","t":4.81,"v":0.01},{"c":"Z","a":"315°","t":4.9,"v":-0.1},{"c":"Z","a":"315°","t":5.03,"v":0.03},{"c":"Z","a":"315°","t":5.17,"v":-0.01},{"c":"Z","a":"315°","t":5.3,"v":-0.09},{"c":"Z","a":"315°","t":5.41,"v":0.01},{"c":"Z","a":"315°","t":5.53,"v":0.19},{"c":"Z","a":"315°","t":5.62,"v":0.05},{"c":"Z","a":"315°","t":5.75,"v":-0.1},{"c":"Z","a":"315°","t":5.88,"v":-0.02},{"c":"Z","a":"315°","t":6.06,"v":0.05},{"c":"Z","a":"315°","t":6.24,"v":0},{"c":"Z","a":"315°","t":6.42,"v":0.1},{"c":"Z","a":"315°","t":6.56,"v":-0.02},{"c":"Z","a":"315°","t":6.76,"v":0.01},{"c":"Z","a":"315°","t":6.99,"v":0.05},{"c":"Z","a":"315°","t":7.32,"v":0.1},{"c":"Z","a":"315°","t":7.66,"v":0.03},{"c":"Z","a":"315°","t":7.95,"v":-0.05},{"c":"Z","a":"315°","t":8.22,"v":0},{"c":"Z","a":"315°","t":8.67,"v":0.02},{"c":"Z","a":"315°","t":9.34,"v":0.03},{"c":"Z","a":"315°","t":10.02,"v":0},{"c":"Z","a":"315°","t":10.92,"v":0.01},{"c":"Z","a":"315°","t":12.26,"v":0},{"c":"Z","a":"315°","t":13,"v":-0.01},{"c":"Z","a":"315°","t":15,"v":0},{"c":"Z","a":"315°","t":17,"v":0.01},{"c":"Z","a":"315°","t":20,"v":0}
]},
"facet": {
  "row": {"field": "a", "type": "nominal", "sort": ["0°","45°","90°","135°","180°","225°","270°","315°"], "title": null,
    "header": {"labels": false, "title": null}},
  "column": {"field": "c", "type": "nominal", "sort": ["NS","WE","Z"], "title": null,
    "header": {"labelOrient": "top", "labelFont": "Liberation Serif", "labelFontSize": 25, "labelColor": "#111", "labelPadding": 10}}
},
"spacing": {"row": 13.9, "column": 23},
"spec": {
  "width": 296,
  "height": 60,
  "layer": [
    {"transform": [{"filter": "isValid(datum.t)"}],
     "mark": {"type": "line", "stroke": "#1a1a1a", "strokeWidth": 1, "clip": false},
     "encoding": {
       "x": {"field": "t", "type": "quantitative", "scale": {"domain": [0, 20], "nice": false},
             "axis": {"values": [0,5,10,15,20], "title": "time (s)", "labelFont": "DejaVu Sans", "labelFontSize": 8.5, "labelColor": "#222", "titleFont": "DejaVu Sans", "titleFontSize": 8, "titleFontWeight": "normal", "titleColor": "#222", "domainColor": "#777", "tickColor": "#777", "tickSize": 2, "labelPadding": 2, "titlePadding": 0, "grid": false}},
       "y": {"field": "v", "type": "quantitative", "scale": {"domain": [-1, 1], "nice": false, "zero": false}, "axis": null}
     }},
    {"transform": [{"filter": "isValid(datum.lab)"}],
     "mark": {"type": "text", "align": "right", "baseline": "middle", "font": "DejaVu Sans", "fontSize": 10, "color": "#333"},
     "encoding": {
       "x": {"datum": 20, "type": "quantitative"},
       "y": {"datum": 0.87, "type": "quantitative"},
       "text": {"field": "lab", "type": "nominal"}
     }},
    {"transform": [{"filter": "isValid(datum.lab) && datum.c == 'NS'"}],
     "mark": {"type": "text", "align": "right", "baseline": "middle", "font": "Liberation Serif", "fontSize": 24, "color": "#111", "dx": -5},
     "encoding": {
       "x": {"datum": 0, "type": "quantitative"},
       "y": {"datum": 0, "type": "quantitative"},
       "text": {"field": "a", "type": "nominal"}
     }}
  ]
},
"config": {"view": {"stroke": null}}
}
